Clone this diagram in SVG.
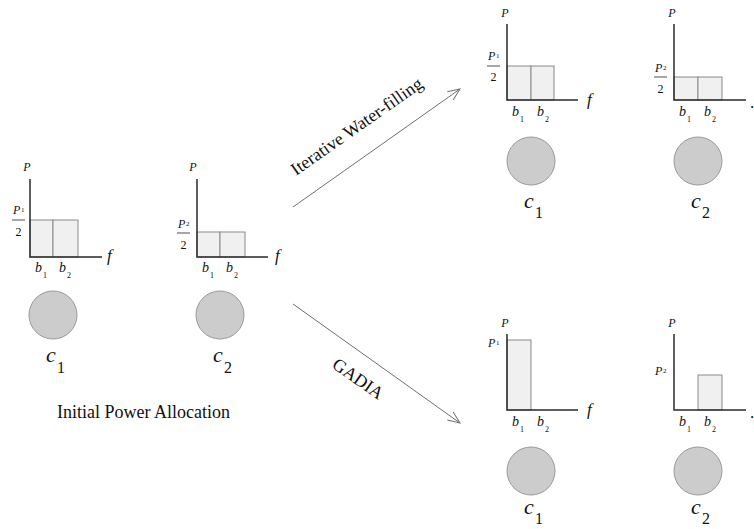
<svg xmlns="http://www.w3.org/2000/svg" width="754" height="529" viewBox="0 0 754 529">
<defs>
<style>
.ax{stroke:#2a2a2a;stroke-width:1.5;fill:none}
.bar{fill:#f0f0f0;stroke:#8a8a8a;stroke-width:1}
.frac{stroke:#222;stroke-width:0.8}
.cell{fill:#cccccc;stroke:#9a9a9a;stroke-width:1}
.conn{stroke:#707070;stroke-width:1;fill:none}
.m{font-family:'Liberation Serif','Times New Roman','DejaVu Serif',serif;font-style:italic;fill:#111}
.n{font-family:'Liberation Serif','Times New Roman','DejaVu Serif',serif;fill:#111}
.pl{font-size:12px}
.fl{font-size:17px}
.bl{font-size:14px}
.sb{font-size:8px}
.fs{font-size:7px}
.cl{font-size:22px}
.cs{font-size:16px}
.lbl{font-family:'Liberation Serif','Times New Roman','DejaVu Serif',serif;font-size:18px;fill:#111}
</style>
<marker id="ah" viewBox="0 0 14 12" refX="13" refY="6" markerWidth="14" markerHeight="12" markerUnits="userSpaceOnUse" orient="auto">
<path d="M1,1 L13,6 L1,11" fill="none" stroke="#707070" stroke-width="1"/>
</marker>
</defs>
<rect width="754" height="529" fill="#fff"/>

<g id="connectors">
<line class="conn" x1="293" y1="207" x2="460" y2="89" marker-end="url(#ah)"/>
<line class="conn" x1="293" y1="304" x2="460" y2="423" marker-end="url(#ah)"/>
<text class="lbl" transform="translate(296,176) rotate(-35)">Iterative Water-filling</text>
<text class="lbl" transform="translate(331,367) rotate(35)">GADIA</text>
</g>

<g id="initial-c1">
<rect class="bar" x="30" y="220" width="23" height="37"/>
<rect class="bar" x="53" y="220" width="25" height="37"/>
<path class="ax" d="M30,179 V257 H102"/>
<text class="m pl" x="27" y="171" text-anchor="middle">P</text>
<text class="m fl" x="107" y="261">f</text>
<text class="m pl" x="13" y="214">P</text><text class="n fs" x="21" y="212">1</text>
<line class="frac" x1="12" y1="220" x2="25" y2="220"/>
<text class="n pl" x="18.5" y="236" text-anchor="middle">2</text>
<text class="m bl" x="35" y="272">b</text><text class="n sb" x="43" y="278">1</text>
<text class="m bl" x="59" y="272">b</text><text class="n sb" x="67" y="278">2</text>
<circle class="cell" cx="53" cy="315" r="24"/>
<text class="m cl" x="46" y="362">c</text><text class="n cs" x="57" y="373">1</text>
</g>

<g id="initial-c2">
<rect class="bar" x="197" y="232" width="23" height="25"/>
<rect class="bar" x="220" y="232" width="25" height="25"/>
<path class="ax" d="M197,179 V257 H268"/>
<text class="m pl" x="193" y="171" text-anchor="middle">P</text>
<text class="m fl" x="275" y="261">f</text>
<text class="m pl" x="178" y="228">P</text><text class="n fs" x="186" y="226">2</text>
<line class="frac" x1="177" y1="233" x2="190" y2="233"/>
<text class="n pl" x="183.5" y="249" text-anchor="middle">2</text>
<text class="m bl" x="202" y="272">b</text><text class="n sb" x="210" y="278">1</text>
<text class="m bl" x="226" y="272">b</text><text class="n sb" x="234" y="278">2</text>
<circle class="cell" cx="220" cy="315" r="24"/>
<text class="m cl" x="213" y="362">c</text><text class="n cs" x="224" y="373">2</text>
</g>

<text id="initial-label" class="lbl" x="57" y="418">Initial Power Allocation</text>

<g id="iwf-c1">
<rect class="bar" x="507" y="66" width="24" height="34"/>
<rect class="bar" x="531" y="66" width="23" height="34"/>
<path class="ax" d="M507,24 V100 H578"/>
<text class="m pl" x="505" y="17" text-anchor="middle">P</text>
<text class="m fl" x="587" y="105">f</text>
<text class="m pl" x="488" y="60">P</text><text class="n fs" x="496" y="58">1</text>
<line class="frac" x1="487" y1="66" x2="500" y2="66"/>
<text class="n pl" x="493.5" y="81" text-anchor="middle">2</text>
<text class="m bl" x="512" y="116">b</text><text class="n sb" x="520" y="122">1</text>
<text class="m bl" x="537" y="116">b</text><text class="n sb" x="545" y="122">2</text>
<circle class="cell" cx="531" cy="161" r="24"/>
<text class="m cl" x="524" y="208">c</text><text class="n cs" x="535" y="218">1</text>
</g>

<g id="iwf-c2">
<rect class="bar" x="674" y="77" width="24" height="23"/>
<rect class="bar" x="698" y="77" width="24" height="23"/>
<path class="ax" d="M674,24 V100 H746"/>
<text class="m pl" x="672" y="17" text-anchor="middle">P</text>
<text class="n fl" x="750" y="108">.</text>
<text class="m pl" x="655" y="72">P</text><text class="n fs" x="663" y="70">2</text>
<line class="frac" x1="654" y1="77" x2="667" y2="77"/>
<text class="n pl" x="660.5" y="93" text-anchor="middle">2</text>
<text class="m bl" x="679" y="116">b</text><text class="n sb" x="687" y="122">1</text>
<text class="m bl" x="704" y="116">b</text><text class="n sb" x="712" y="122">2</text>
<circle class="cell" cx="698" cy="161" r="24"/>
<text class="m cl" x="691" y="208">c</text><text class="n cs" x="702" y="218">2</text>
</g>

<g id="gadia-c1">
<rect class="bar" x="507" y="340" width="24" height="70"/>
<path class="ax" d="M507,334 V410 H578"/>
<text class="m pl" x="505" y="327" text-anchor="middle">P</text>
<text class="m fl" x="587" y="415">f</text>
<text class="m pl" x="488" y="347">P</text><text class="n fs" x="496" y="345">1</text>
<text class="m bl" x="512" y="426">b</text><text class="n sb" x="520" y="432">1</text>
<text class="m bl" x="537" y="426">b</text><text class="n sb" x="545" y="432">2</text>
<circle class="cell" cx="531" cy="471" r="24"/>
<text class="m cl" x="524" y="514">c</text><text class="n cs" x="535" y="524">1</text>
</g>

<g id="gadia-c2">
<rect class="bar" x="698" y="375" width="24" height="35"/>
<path class="ax" d="M674,334 V410 H746"/>
<text class="m pl" x="672" y="327" text-anchor="middle">P</text>
<text class="n fl" x="750" y="418">.</text>
<text class="m pl" x="655" y="375">P</text><text class="n fs" x="663" y="373">2</text>
<text class="m bl" x="679" y="426">b</text><text class="n sb" x="687" y="432">1</text>
<text class="m bl" x="704" y="426">b</text><text class="n sb" x="712" y="432">2</text>
<circle class="cell" cx="698" cy="471" r="24"/>
<text class="m cl" x="691" y="514">c</text><text class="n cs" x="702" y="524">2</text>
</g>
</svg>
